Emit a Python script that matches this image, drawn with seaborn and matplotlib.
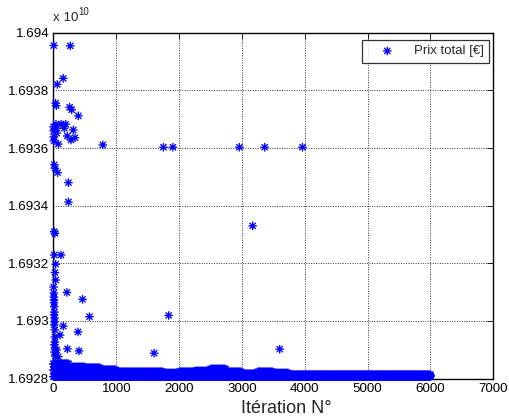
import numpy as np
import pandas as pd
import matplotlib
matplotlib.use("Agg")
import matplotlib.pyplot as plt
import seaborn as sns
from matplotlib.path import Path
from matplotlib.ticker import FuncFormatter, MultipleLocator

# Isolated evaluations (iteration, total price in units of 1e10 EUR)
iso_iter = [5, 268, 156, 61, 35, 45, 258, 290, 396, 40, 120, 195, 51, 172, 316,
            51, 220, 343, 279, 77, 785, 1751, 1901, 2959, 3362, 3964, 13, 24, 67,
            239, 239, 3171, 13, 24, 13, 120, 35, 24, 35, 215, 463, 574, 1834, 156,
            391, 223, 407, 1603, 3601, 104, 51, 77]
iso_prix = [1.693956, 1.693955, 1.693842, 1.693821, 1.693756, 1.693747, 1.693742,
            1.693733, 1.693712, 1.693683, 1.693683, 1.693683, 1.693669, 1.693669,
            1.693663, 1.693652, 1.693642, 1.693636, 1.693628, 1.693614, 1.693611,
            1.693603, 1.693603, 1.693603, 1.693603, 1.693603, 1.693542, 1.693530,
            1.693515, 1.693480, 1.693413, 1.693330, 1.693310, 1.693304, 1.693229,
            1.693229, 1.693197, 1.693168, 1.693142, 1.693099, 1.693075, 1.693015,
            1.693019, 1.692982, 1.692962, 1.692903, 1.692896, 1.692888, 1.692902,
            1.692951, 1.692899, 1.692876]

# First iterations (random initial population)
init_iter = [2, 4, 6, 8, 3, 5, 7, 9, 11, 13, 15, 17, 19, 21, 23, 25, 27, 29,
             10, 12, 14, 16]
init_prix = [1.693674, 1.693660, 1.693639, 1.693625, 1.693118, 1.693097, 1.693083,
             1.693073, 1.693063, 1.693049, 1.693031, 1.693010, 1.692997, 1.692969,
             1.692944, 1.692927, 1.692906, 1.692878, 1.693021, 1.692986, 1.692917,
             1.692892]

# Converged band: per block of 250 iterations, highest and lowest price reached
band_start = [0, 250, 500, 750, 1000, 1250, 1500, 1750, 2000, 2250, 2500, 2750,
              3000, 3250, 3500, 3750, 4000, 4250, 4500, 4750, 5000, 5250, 5500,
              5750]
band_top = [1.692851, 1.692840, 1.692837, 1.692830, 1.692823, 1.692823, 1.692823,
            1.692819, 1.692823, 1.692826, 1.692833, 1.692823, 1.692816, 1.692823,
            1.692819, 1.692813, 1.692813, 1.692813, 1.692813, 1.692813, 1.692813,
            1.692813, 1.692813, 1.692813]
band_low = 1.692807
n_iter = 6000

# assemble every evaluation of the run
band_it = np.arange(0, n_iter + 1, 10)
blk = np.minimum(band_it // 250, len(band_start) - 1)
top = np.asarray(band_top)[blk]
mid = (top + band_low) / 2
rows_it = np.concatenate([band_it, band_it, band_it, iso_iter, init_iter])
rows_p = np.concatenate([top, mid, np.full(band_it.shape, band_low), iso_prix, init_prix])
df = pd.DataFrame({"iteration": rows_it, "prix": rows_p})

# asterisk marker: a plus combined with a shorter cross
d = 0.72
star = Path([(-1, 0), (1, 0), (0, -1), (0, 1), (-d, -d), (d, d), (-d, d), (d, -d)],
            [Path.MOVETO, Path.LINETO] * 4)

sns.set_style("white")
plt.rcParams["font.family"] = ["Liberation Sans", "DejaVu Sans"]

fig = plt.figure(figsize=(5.09, 4.16), dpi=100)
ax = fig.add_axes([0.105, 0.090, 0.864, 0.831])

sns.scatterplot(data=df, x="iteration", y="prix", marker=star, s=38,
                color="blue", facecolor="none", edgecolor="blue", linewidth=0.95,
                label="Prix total [€]", clip_on=False, zorder=3, ax=ax)

ax.set_xlim(0, 7000)
ax.set_ylim(1.6928, 1.6940)
ax.xaxis.set_major_locator(MultipleLocator(1000))
ax.yaxis.set_major_locator(MultipleLocator(0.0002))
ax.yaxis.set_major_formatter(FuncFormatter(lambda v, p: f"{v:g}"))
ax.xaxis.set_major_formatter(FuncFormatter(lambda v, p: f"{v:g}"))
ax.tick_params(direction="in", length=4, width=0.6, top=True, right=True,
               labelsize=9.6, pad=3, colors="black")
ax.grid(True, linestyle=(0, (1, 1.5)), color="#333333", linewidth=0.7)
for s in ax.spines.values():
    s.set_color("black")
    s.set_linewidth(1.0)

ax.set_ylabel("")
ax.set_xlabel("Itération N°", fontsize=13, va="baseline")
ax.xaxis.set_label_coords(0.53, -0.10)

ax.text(0.0, 1.033, "x 10", transform=ax.transAxes, fontsize=9.6,
        ha="left", va="baseline")
ax.text(0.056, 1.052, "10", transform=ax.transAxes, fontsize=7,
        ha="left", va="baseline")

leg = ax.legend(loc="upper right", bbox_to_anchor=(0.9903, 0.9797),
                borderaxespad=0, fontsize=9.5, frameon=True, fancybox=False,
                handlelength=3.0, handletextpad=0.5, borderpad=0.4)
leg.get_frame().set_edgecolor("black")
leg.get_frame().set_linewidth(0.9)

fig.savefig("out.png", dpi=100)
